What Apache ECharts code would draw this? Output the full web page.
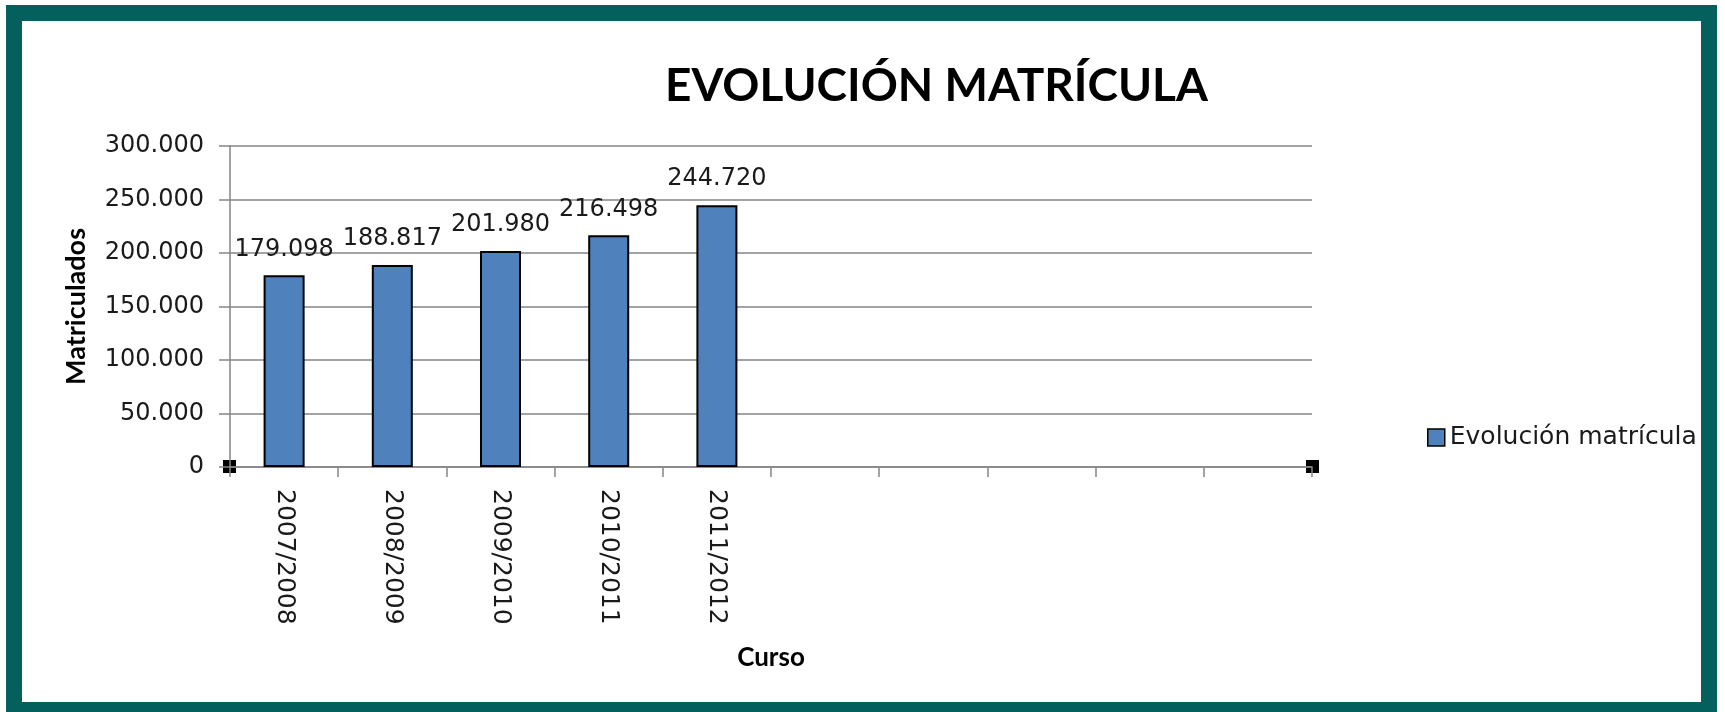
<!DOCTYPE html>
<html>
<head>
<meta charset="utf-8">
<script src="https://cdn.jsdelivr.net/npm/echarts@6/dist/echarts.min.js"></script>
<style>
  html, body { margin: 0; padding: 0; background: #fff; }
  #marco {
    position: absolute; left: 6px; top: 5px; width: 1711px; height: 713px;
    box-sizing: border-box; border: 16px solid #03605c;
  }
  #grafico { position: absolute; left: 0; top: 0; width: 1725px; height: 712px; }
</style>
</head>
<body>
<div id="marco"></div>
<div id="grafico"></div>
<script>
// cursos (10 huecos en el eje, solo 5 con datos)
var cursos = ['2007/2008', '2008/2009', '2009/2010', '2010/2011', '2011/2012', '', '', '', '', ''];
var matriculados = [179098, 188817, 201980, 216498, 244720];
var ticksY = [0, 50000, 100000, 150000, 200000, 250000, 300000];

// miles con punto
function miles(v) {
	return String(v).replace(/\B(?=(\d{3})+(?!\d))/g, '.');
}

var G = { left: 230, top: 146, right: 413, bottom: 245 };
var gris = '#858585';
var fuente = 'DejaVu Sans';

var myChart = echarts.init(document.getElementById('grafico'));
var option = {
	animation : false,
	title : {
		text : 'EVOLUCIÓN MATRÍCULA',
		left : 660,
		top : 58,
		textStyle : {
			fontFamily : 'Lato',
			fontWeight : 'bold',
			fontSize : 46,
			color : '#000'
		}
	},
	legend : {
		data : [ 'Evolución matrícula' ],
		left : 1422,
		top : 420,
		icon : 'rect',
		itemWidth : 17,
		itemHeight : 17,
		itemGap : 0,
		itemStyle : { borderColor : '#000', borderWidth : 1.5 },
		textStyle : { fontFamily : fuente, fontSize : 25, color : '#1a1a1a' }
	},
	grid : {
		left : G.left,
		top : G.top,
		right : G.right,
		bottom : G.bottom,
		containLabel : false
	},
	xAxis : [ {
		type : 'category',
		data : cursos,
		name : 'Curso',
		nameLocation : 'middle',
		nameGap : 178,
		nameTextStyle : { fontFamily : 'Lato', fontWeight : 'bold', fontSize : 26, color : '#000' },
		axisLine : { lineStyle : { color : gris, width : 1.5 } },
		axisTick : { show : true, interval : 0, length : 10, lineStyle : { color : gris, width : 1.5 } },
		axisLabel : {
			interval : 0,
			rotate : -90,
			margin : 22,
			fontFamily : fuente,
			fontSize : 25,
			color : '#1a1a1a'
		}
	} ],
	yAxis : [ {
		type : 'value',
		min : ticksY[0],
		max : ticksY[ticksY.length - 1],
		interval : 50000,
		name : 'Matriculados',
		nameLocation : 'middle',
		nameRotate : 90,
		nameGap : 140,
		nameTextStyle : { fontFamily : 'Lato', fontWeight : 'bold', fontSize : 27, color : '#000' },
		axisLine : { show : true, lineStyle : { color : gris, width : 1.5 } },
		axisTick : { show : true, length : 11, lineStyle : { color : gris, width : 1.5 } },
		splitLine : { show : true, lineStyle : { color : gris, width : 1.5 } },
		axisLabel : {
			margin : 26,
			fontFamily : fuente,
			fontSize : 24,
			color : '#1a1a1a',
			formatter : function (v) { return miles(v); }
		}
	} ],
	series : [ {
		name : 'Evolución matrícula',
		type : 'bar',
		data : matriculados,
		barWidth : 41,
		itemStyle : { color : '#4f81bd', borderColor : '#000', borderWidth : 2 },
		label : {
			show : true,
			position : 'top',
			distance : 14,
			fontFamily : fuente,
			fontSize : 24,
			color : '#1a1a1a',
			formatter : function (p) { return miles(p.value); }
		}
	} ],
	// marcadores negros en los extremos del eje x
	graphic : [ {
		type : 'rect',
		shape : { x : G.left - 7, y : 712 - G.bottom - 7, width : 13, height : 13 },
		style : { fill : '#000' }
	}, {
		type : 'rect',
		shape : { x : 1725 - G.right - 6, y : 712 - G.bottom - 7, width : 13, height : 13 },
		style : { fill : '#000' }
	} ]
};
myChart.setOption(option);
</script>
</body>
</html>
